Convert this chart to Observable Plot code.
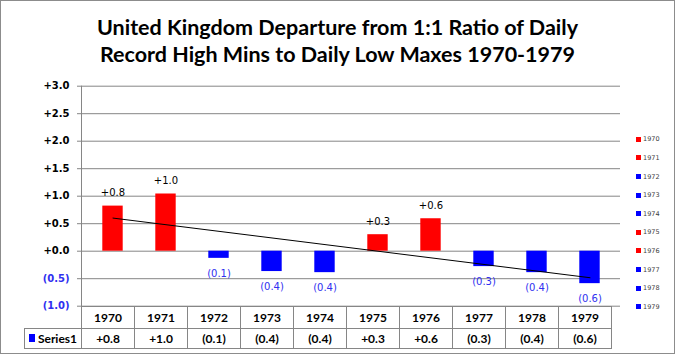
<!DOCTYPE html>
<html>
<head>
<meta charset="utf-8">
<script src="https://cdn.jsdelivr.net/npm/d3@7"></script>
<script src="https://cdn.jsdelivr.net/npm/@observablehq/plot@0.6"></script>
<style>
  html, body { margin: 0; padding: 0; background: #fff; }
  #wrap { position: relative; width: 675px; height: 354px; overflow: hidden; background: #fff; }
  #frame { position: absolute; left: 0; top: 0; width: 675px; height: 354px; box-sizing: border-box; border: 1px solid #8c8c8c; pointer-events: none; }
  #title { position: absolute; left: 0; top: 14px; width: 675px; text-align: center; font-family: Lato, "Open Sans", sans-serif; font-weight: 700; font-size: 21.5px; line-height: 27px; color: #000; }
  #chart { position: absolute; left: 0; top: 78px; }
  #table { position: absolute; left: 0; top: 0; width: 675px; height: 354px; pointer-events: none; }
  .cell { position: absolute; box-sizing: border-box; border: 1px solid #868686; font-family: Lato, "Open Sans", sans-serif; font-weight: 700; font-size: 12px; color: #000; display: flex; align-items: center; justify-content: center; }
  #legend { position: absolute; left: 636px; top: 0; font-family: "DejaVu Sans", sans-serif; font-size: 6.5px; color: #404040; }
  .lg { position: absolute; left: 0; white-space: nowrap; display: flex; align-items: center; height: 8px; }
  .sw { display: inline-block; width: 5px; height: 5px; margin-right: 2px; }
</style>
</head>
<body>
<div id="wrap">
  <div id="title"></div>
  <div id="chart"></div>
  <div id="table"></div>
  <div id="legend"></div>
  <div id="frame"></div>
</div>
<script>
// ---- data ----
const titleLines = ["United Kingdom Departure from 1:1 Ratio of Daily", "Record High Mins to Daily Low Maxes 1970-1979"];
const years = ["1970", "1971", "1972", "1973", "1974", "1975", "1976", "1977", "1978", "1979"];
const values = [0.82, 1.04, -0.13, -0.37, -0.39, 0.30, 0.59, -0.28, -0.39, -0.59];
const valueLabels = ["+0.8", "+1.0", "(0.1)", "(0.4)", "(0.4)", "+0.3", "+0.6", "(0.3)", "(0.4)", "(0.6)"];
const yTicks = [-1, -0.5, 0, 0.5, 1, 1.5, 2, 2.5, 3];
const yTickLabels = ["(1.0)", "(0.5)", "+0.0", "+0.5", "+1.0", "+1.5", "+2.0", "+2.5", "+3.0"];
const seriesName = "Series1";

const RED = "#ff0000", BLUE = "#0000ff", NEGTEXT = "#3030f0", GRID = "#868686";

const data = years.map((year, i) => ({year, value: values[i], label: valueLabels[i]}));
const pos = data.filter(d => d.value >= 0);
const neg = data.filter(d => d.value < 0);

// linear trend line (least squares over the category index)
const n = values.length;
const xm = d3.mean(d3.range(n));
const ym = d3.mean(values);
const slope = d3.sum(values, (v, i) => (i - xm) * (v - ym)) / d3.sum(d3.range(n), i => (i - xm) ** 2);
const icpt = ym - slope * xm;
const trend = [0, n - 1].map(i => ({year: years[i], value: icpt + slope * i}));

// title
document.getElementById("title").innerHTML = titleLines.map(t => `<div>${t}</div>`).join("");

const chart = Plot.plot({
  width: 675,
  height: 276,
  marginLeft: 81,
  marginRight: 55,
  marginTop: 7.7,
  marginBottom: 48.3,
  style: {fontFamily: "DejaVu Sans, sans-serif", fontSize: "10px", color: GRID, background: "transparent", overflow: "visible"},
  x: {domain: years, padding: 0, axis: null},
  y: {domain: [-1, 3], ticks: yTicks, tickFormat: d => yTickLabels[yTicks.indexOf(d)], tickSize: 4, tickPadding: 8, line: true, label: null},
  marks: [
    Plot.ruleY(yTicks, {stroke: GRID, strokeWidth: 1}),
    Plot.barY(pos, {x: "year", y: "value", fill: RED, insetLeft: 16.3, insetRight: 16.3}),
    Plot.barY(neg, {x: "year", y: "value", fill: BLUE, insetLeft: 16.3, insetRight: 16.3}),
    Plot.line(trend, {x: "year", y: "value", stroke: "#000", strokeWidth: 1}),
    Plot.text(pos, {x: "year", y: "value", text: "label", dy: -13, fill: "#000", fontFamily: "DejaVu Sans", fontSize: 10}),
    Plot.text(neg, {x: "year", y: "value", text: "label", dy: 15, fill: NEGTEXT, fontFamily: "DejaVu Sans", fontSize: 10})
  ]
});
document.getElementById("chart").appendChild(chart);

// y-axis label colouring (negative values blue, bold)
chart.querySelectorAll('[aria-label^="y-axis"] text').forEach(t => {
  t.setAttribute("fill", t.textContent.trim().startsWith("(") ? NEGTEXT : "#000");
  t.setAttribute("font-weight", "bold");
});

// data table under the chart, aligned to the x scale
const xs = chart.scale("x");
const step = xs.step != null ? xs.step : (xs.range[1] - xs.range[0]) / years.length;
const x0 = xs.range[0];
const tableTop = 78 + 227.7;
const row1H = 22, row2H = 20;
const tbl = document.getElementById("table");
function cell(left, top, w, h, html) {
  const c = document.createElement("div");
  c.className = "cell";
  c.style.left = left + "px"; c.style.top = top + "px";
  c.style.width = (w + 1) + "px"; c.style.height = (h + 1) + "px";
  c.innerHTML = html;
  tbl.appendChild(c);
}
years.forEach((y, i) => {
  cell(x0 + i * step, tableTop, step, row1H, y);
  cell(x0 + i * step, tableTop + row1H, step, row2H, valueLabels[i]);
});
cell(24, tableTop + row1H, x0 - 24, row2H,
  `<span style="display:inline-block;width:6px;height:8px;background:${BLUE};margin-right:3px"></span>${seriesName}`);

// legend on the right
const lg = document.getElementById("legend");
years.forEach((y, i) => {
  const e = document.createElement("div");
  e.className = "lg";
  e.style.top = (139.3 - 4 + i * 18.6) + "px";
  e.innerHTML = `<span class="sw" style="background:${values[i] >= 0 ? RED : BLUE}"></span>${y}`;
  lg.appendChild(e);
});
</script>
</body>
</html>
